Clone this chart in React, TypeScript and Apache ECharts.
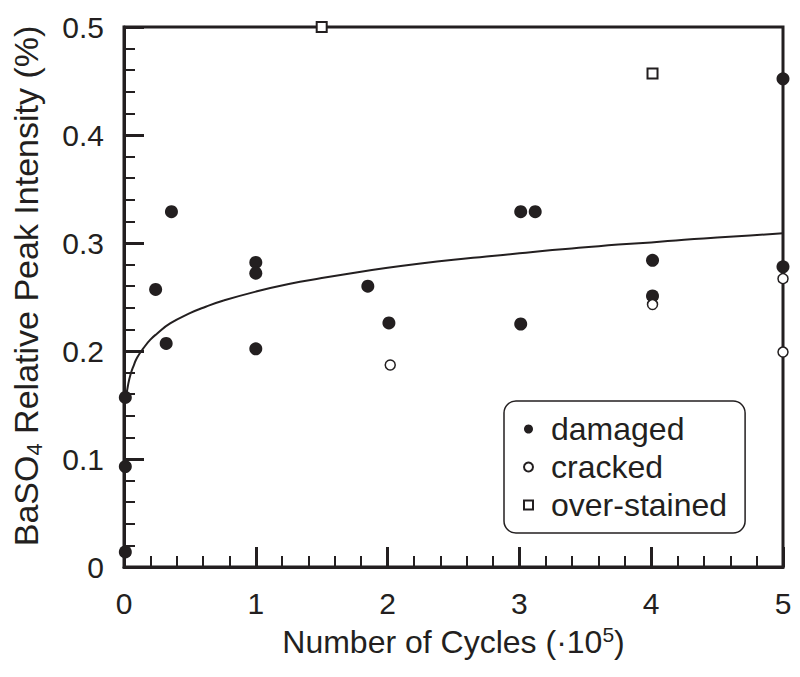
import React, { useEffect, useRef } from "react";
import * as echarts from "echarts";

// damaged specimens (filled circles)
const damagedX = [0.01, 0.01, 0.01, 0.24, 0.32, 0.36, 1, 1, 1, 1.85, 2.01, 3.01, 3.01, 3.12, 4.01, 4.01, 5, 5];
const damagedY = [0.157, 0.093, 0.014, 0.257, 0.207, 0.329, 0.282, 0.272, 0.202, 0.26, 0.226, 0.329, 0.225, 0.329, 0.284, 0.251, 0.452, 0.278];

// cracked specimens (open circles)
const crackedX = [2.02, 4.01, 5, 5];
const crackedY = [0.187, 0.243, 0.267, 0.199];

// over-stained specimens (open squares)
const overX = [1.5, 4.01];
const overY = [0.5, 0.457];

// fitted trend curve
const fitX = [0.015, 0.03, 0.05, 0.075, 0.1, 0.15, 0.2, 0.25, 0.35, 0.5, 0.62, 0.75, 1, 1.25, 1.5, 1.75, 2, 2.25, 2.5, 2.75, 3, 3.25, 3.5, 3.75, 4, 4.25, 4.5, 4.75, 5];
const fitY = [0.156, 0.168, 0.1785, 0.187, 0.194, 0.203, 0.2105, 0.216, 0.2255, 0.235, 0.241, 0.2465, 0.255, 0.262, 0.2675, 0.2725, 0.277, 0.281, 0.2845, 0.2875, 0.2905, 0.2935, 0.296, 0.2985, 0.3005, 0.303, 0.305, 0.307, 0.309];

const seriesNames = ["damaged", "cracked", "over-stained"];

const zip = (xs: number[], ys: number[]) => xs.map((x, i) => [x, ys[i]]);

export default function App() {
  const ref = useRef<HTMLDivElement>(null);
  useEffect(() => {
    const chart = echarts.init(ref.current!, null, { renderer: "svg" });
    const ink = "#231f20";
    const ff = "Liberation Sans";
    chart.setOption({
      animation: false,
      backgroundColor: "#ffffff",
      grid: {
        left: 124,
        right: 17,
        top: 27,
        bottom: 110,
        show: true,
        borderColor: ink,
        borderWidth: 3,
        backgroundColor: "transparent",
      },
      xAxis: {
        type: "value",
        min: 0,
        max: 5,
        interval: 1,
        axisLine: { show: true, lineStyle: { color: ink, width: 3 } },
        axisTick: { show: true, inside: true, length: 20, lineStyle: { color: ink, width: 3 } },
        minorTick: { show: true, splitNumber: 5, length: 11, lineStyle: { color: ink, width: 2 } },
        splitLine: { show: false },
        axisLabel: { color: ink, fontSize: 30, fontFamily: ff, margin: 21 },
        name: "{a|Number of Cycles (·10}{sup|5}{a|)}",
        nameLocation: "middle",
        nameGap: 57,
        nameTextStyle: {
          color: ink,
          fontFamily: ff,
          rich: {
            a: { fontSize: 32, fontFamily: ff, color: ink, lineHeight: 36 },
            sup: { fontSize: 21, fontFamily: ff, color: ink, lineHeight: 22, verticalAlign: "top" },
          },
        },
      },
      yAxis: {
        type: "value",
        min: 0,
        max: 0.5,
        interval: 0.1,
        axisLine: { show: true, lineStyle: { color: ink, width: 3 } },
        axisTick: { show: true, inside: true, length: 20, lineStyle: { color: ink, width: 3 } },
        minorTick: { show: true, splitNumber: 5, length: 11, lineStyle: { color: ink, width: 2 } },
        splitLine: { show: false },
        axisLabel: { color: ink, fontSize: 30, fontFamily: ff, margin: 20 },
        name: "{a|BaSO}{sub|4}{a| Relative Peak Intensity (%)}",
        nameLocation: "middle",
        nameGap: 79,
        nameTextStyle: {
          color: ink,
          fontFamily: ff,
          padding: [0, 0, 0, 22],
          rich: {
            a: { fontSize: 34, fontFamily: ff, color: ink, lineHeight: 38 },
            sub: { fontSize: 22, fontFamily: ff, color: ink, lineHeight: 22, verticalAlign: "bottom" },
          },
        },
      },
      legend: {
        data: seriesNames,
        orient: "vertical",
        left: 504,
        top: 401,
        padding: [12, 18, 12, 19],
        itemGap: 6,
        itemWidth: 9,
        itemHeight: 9,
        borderColor: ink,
        borderWidth: 1.5,
        borderRadius: 12,
        selectedMode: false,
        textStyle: { fontSize: 32, color: ink, fontFamily: ff, lineHeight: 30, padding: [0, 0, 0, 13] },
      },
      series: [
        {
          type: "line",
          name: "fit",
          data: zip(fitX, fitY),
          showSymbol: false,
          smooth: 0.5,
          lineStyle: { color: ink, width: 2 },
          z: 1,
          silent: true,
        },
        {
          type: "scatter",
          name: seriesNames[0],
          data: zip(damagedX, damagedY),
          symbol: "circle",
          symbolSize: 13,
          clip: false,
          itemStyle: { color: ink, opacity: 1 },
          z: 3,
        },
        {
          type: "scatter",
          name: seriesNames[1],
          data: zip(crackedX, crackedY),
          symbol: "circle",
          symbolSize: 10,
          clip: false,
          itemStyle: { color: "#ffffff", borderColor: ink, borderWidth: 1.5, opacity: 1 },
          z: 4,
        },
        {
          type: "scatter",
          name: seriesNames[2],
          data: zip(overX, overY),
          symbol: "rect",
          symbolSize: 10,
          clip: false,
          itemStyle: { color: "#ffffff", borderColor: ink, borderWidth: 2, opacity: 1 },
          z: 4,
        },
      ],
    });
    return () => chart.dispose();
  }, []);
  return (
    <div
      ref={ref}
      style={{ position: "fixed", left: 0, top: 0, width: 800, height: 677 }}
    />
  );
}
